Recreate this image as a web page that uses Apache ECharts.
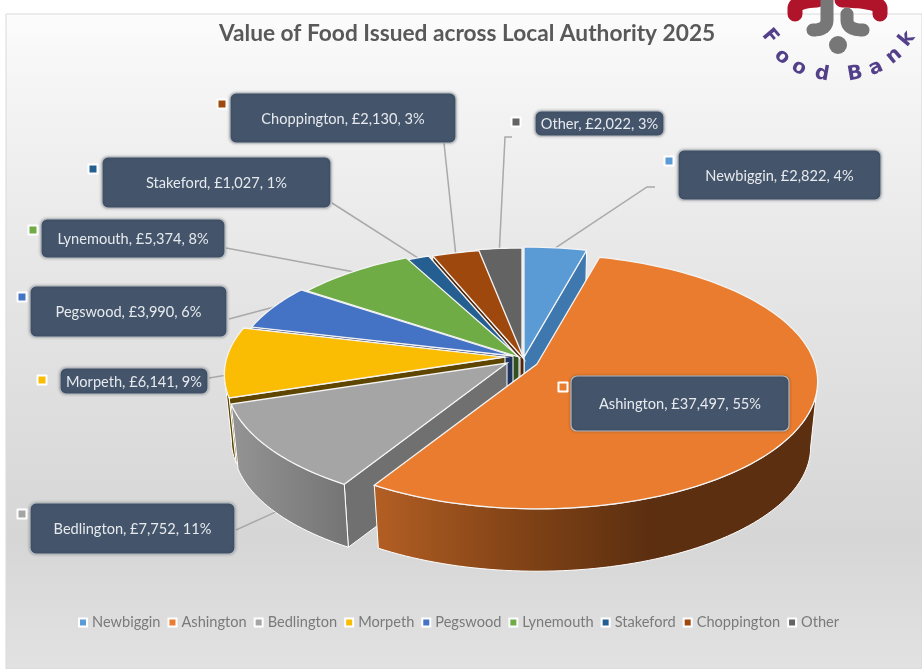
<!DOCTYPE html>
<html>
<head>
<meta charset="utf-8">
<style>html,body{margin:0;padding:0;background:#fff}#c{width:922px;height:669px}</style>
<script src="https://cdn.jsdelivr.net/npm/echarts@6/dist/echarts.min.js"></script>
</head>
<body>
<div id="c"></div>
<script>
// ---- data ----
const categories = ['Newbiggin','Ashington','Bedlington','Morpeth','Pegswood','Lynemouth','Stakeford','Choppington','Other'];
const foodValues = [2822,37497,7752,6141,3990,5374,1027,2130,2022];
const chartTitle = 'Value of Food Issued across Local Authority 2025';

// ---- styles ----
const topColors  = ['#5b9bd5','#e97c2e','#a5a5a5','#fbbc04','#4472c4','#6fac46','#255e91','#9e480e','#636363'];
const wallColors = ['#3f78ae','#5c2f10','#707070','#5e4600','#1f3560','#33501f','#122e48','#4f2407','#8a8a8a'];
const paintOrder = [0,8,7,6,5,4,3,2,1]; // back to front
// projection of the pie plane (a tilted disc seen in perspective)
const R = 278, S = 125, K = 0.137, Q = 0.975, DROP = 66;
// exploded centres of every slice
const centres = [[524,357],[537,364],[507,363],[505,357],[513,356],[519,357],[520,359],[524,359],[522,358]];
// label layout: box [x0,y0,x1,y1], key [x,y], leader elbow points, share of the wall depth at the leader's end
const boxes = [[678,150,881,200],[571,376,789,431],[30,503,235,554],[60,368,208,394],[30,286,227,337],[41,219,225,258],[102,157,331,208],[230,93,456,143],[535,111,664,136]];
const keys  = [[669,161],[563,387],[22,514],[42,380],[22,297],[33,230],[93,169],[222,104],[516,122]];
const leaderStart = [[[655,187],[647,187]],[],[[236,530]],[[209,378]],[[229,319]],[[226,248]],[[332,203]],[[444,143]],[[512,137],[505,137]]];
const leaderDepth = [0,0,1,0.2,0,0,0,0,0];

const total = foodValues.reduce((a,b)=>a+b,0);
let acc = 0;
const spans = foodValues.map(v => { const s = acc/total*360; acc += v; return [s, acc/total*360]; });

function project(i, deg, r, bottom) {
  const t = deg*Math.PI/180, X = Math.sin(t)*r, V = -Math.cos(t)*r, s = 1/(1-K*V);
  const c = centres[i];
  let dx = R*X*s, dy = S*V*s;
  if (bottom) return [c[0]+dx*Q, c[1]+dy*Q+DROP];
  return [c[0]+dx, c[1]+dy];
}
function arc(i, a, b, bottom) {
  const n = Math.max(2, Math.ceil(Math.abs(b-a)/1.5)), pts = [];
  for (let j=0;j<=n;j++) pts.push(project(i, a+(b-a)*j/n, 1, bottom));
  return pts;
}
const frontLimit = Math.acos(-K)*180/Math.PI;
const wallGrad = {
  1:{type:'linear',x:0,y:0,x2:1,y2:0,colorStops:[{offset:0,color:'#b35f24'},{offset:.3,color:'#854517'},{offset:.62,color:'#5c2f10'},{offset:1,color:'#5c2f10'}]},
  2:{type:'linear',x:0,y:0,x2:1,y2:0,colorStops:[{offset:0,color:'#949494'},{offset:1,color:'#747474'}]}
};

function renderSlice(params, api) {
  const i = api.value(0), val = api.value(1);
  const [a,b] = spans[i], base = 10 + paintOrder.indexOf(i)*10;
  const apex = project(i,0,0,false), apexB = project(i,0,0,true);
  const children = [];
  const mid = project(i,(a+b)/2,1,false);
  // cut faces that look toward the viewer
  [a,b].forEach(edge => {
    const e = project(i,edge,1,false), eB = project(i,edge,1,true);
    const lineY = apex[1] + (e[1]-apex[1])*(mid[0]-apex[0])/((e[0]-apex[0])||1e-6);
    if (mid[1] < lineY && Math.abs(e[0]-apex[0])>1) {
      children.push({type:'polygon',z2:base,shape:{points:[apex,e,eB,apexB]},style:{fill:wallColors[i],stroke:'#fff',lineWidth:1}});
    }
  });
  // outer wall
  const wa = Math.max(a,frontLimit), wb = Math.min(b,360-frontLimit);
  if (wb > wa) {
    const pts = arc(i,wa,wb,false).concat(arc(i,wb,wa,true));
    children.push({type:'polygon',z2:base+1,shape:{points:pts},style:{fill:wallGrad[i]||wallColors[i],stroke:'#fff',lineWidth:1}});
  }
  // top face
  children.push({type:'polygon',z2:base+2,shape:{points:[apex].concat(arc(i,a,b,false))},style:{fill:topColors[i],stroke:'#f4f4f4',lineWidth:1.3}});

  // leader line
  const end = project(i,(a+b)/2,1,false), endB = project(i,(a+b)/2,1,true);
  const d = leaderDepth[i];
  if (leaderStart[i].length) {
    children.push({type:'polyline',z2:2,shape:{points:leaderStart[i].concat([[end[0]+(endB[0]-end[0])*d,end[1]+(endB[1]-end[1])*d]])},
      style:{fill:null,stroke:'#a9a9a9',lineWidth:1.5}});
  }
  // label box
  const bx = boxes[i], pct = Math.round(val/total*100);
  children.push({type:'rect',z2:1000,shape:{x:bx[0],y:bx[1],width:bx[2]-bx[0],height:bx[3]-bx[1],r:6},
    style:{fill:'#44546a',stroke:'#b4bac2',lineWidth:1.2,shadowBlur:3,shadowColor:'rgba(0,0,0,0.25)'}});
  children.push({type:'text',z2:1001,style:{x:(bx[0]+bx[2])/2,y:(bx[1]+bx[3])/2+1,
    text:categories[i]+', £'+val.toLocaleString('en-GB')+', '+pct+'%',fill:'#e6eaee',font:'14.6px Lato',align:'center',verticalAlign:'middle'}});
  const k = keys[i];
  children.push({type:'rect',z2:1000,shape:{x:k[0]-5.5,y:k[1]-5.5,width:11,height:11,r:1},style:{fill:'#fff'}});
  children.push({type:'rect',z2:1001,shape:{x:k[0]-3.5,y:k[1]-3.5,width:7,height:7},style:{fill:topColors[i]}});
  return {type:'group',children};
}

// logo strokes: quadratic curves sampled into polylines
function curve(p0,p1,p2,p3){
  const pts=[p0,p1];
  for(let t=0.1;t<=1.001;t+=0.1){const u=1-t;pts.push([u*u*p1[0]+2*u*t*p2[0]+t*t*p3[0],u*u*p1[1]+2*u*t*p2[1]+t*t*p3[1]]);}
  return pts;
}
const logoRed  = [curve([795,14],[795,8],[796,1],[817,0]),curve([880,14],[880,8],[879,1],[842,0])];
const logoGrey = [curve([827,0],[827,20],[827,30],[813,30]),curve([847,14],[847,20],[847,30],[863,30])];
const logoLetters = [['F',770,37,50],['o',782,57,42],['o',799,68,25],['d',822,74,10],['B',855,74,-10],['a',876,68,-25],['n',894,56,-40],['k',907,39,-50]];

const chart = echarts.init(document.getElementById('c'), null, {renderer:'canvas'});
chart.setOption({
  animation:false,
  title:{text:chartTitle,left:214,top:17,textStyle:{fontFamily:'Lato',fontSize:22.7,fontWeight:'bold',color:'#595959'}},
  legend:{data:categories,left:73,top:610,itemGap:7,itemWidth:8,itemHeight:8,icon:'rect',
    itemStyle:{borderColor:'#fff',borderWidth:2},selectedMode:false,
    textStyle:{fontFamily:'Lato',fontSize:14.6,color:'#7a7a7a'}},
  graphic:{elements:[
    {type:'rect',z:-10,silent:true,shape:{x:6,y:14,width:916,height:655},
      style:{fill:{type:'linear',x:0,y:0,x2:0,y2:1,colorStops:[{offset:0,color:'#fcfcfc'},{offset:.12,color:'#f4f4f4'},{offset:.4,color:'#e6e6e6'},{offset:.8,color:'#d6d6d6'},{offset:1,color:'#e2e2e2'}]},stroke:'#d9d9d9',lineWidth:1}}
  ].concat(logoRed.map(p=>({type:'polyline',z:5,shape:{points:p},style:{fill:null,stroke:'#b0142b',lineWidth:15,lineCap:'round',lineJoin:'round'}})))
   .concat(logoGrey.map(p=>({type:'polyline',z:5,shape:{points:p},style:{fill:null,stroke:'#777',lineWidth:13,lineCap:'round',lineJoin:'round'}})))
   .concat([{type:'circle',z:5,shape:{cx:838,cy:45,r:9},style:{fill:'#777'}}])
   .concat(logoLetters.map(l=>({type:'text',z:5,x:l[1],y:l[2],rotation:-l[3]*Math.PI/180,
    style:{text:l[0],x:0,y:0,align:'center',verticalAlign:'middle',font:'bold 20px "DejaVu Sans"',fill:'#54408a'}})))},
  series:categories.map((name,i)=>({
    type:'custom',name,coordinateSystem:'none',silent:true,z:2,
    itemStyle:{color:topColors[i]},
    renderItem:renderSlice,
    data:[[i,foodValues[i]]]
  }))
});
</script>
</body>
</html>
